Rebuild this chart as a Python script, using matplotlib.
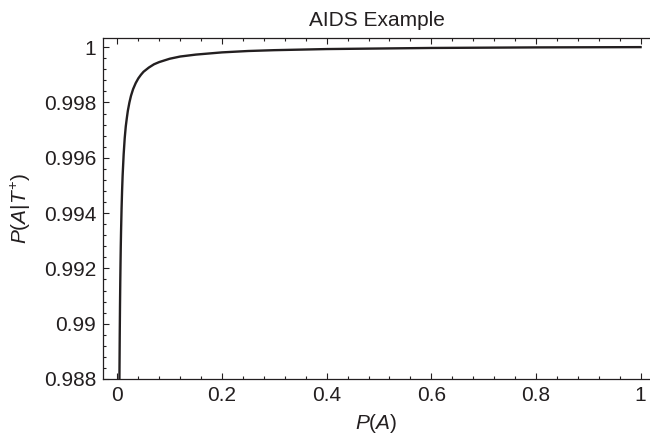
import numpy as np
import matplotlib
matplotlib.use('Agg')
import matplotlib.pyplot as plt
from matplotlib.ticker import MultipleLocator, FuncFormatter

# values
p_a = [0.0036, 0.004, 0.0045, 0.005, 0.0055, 0.006, 0.0065, 0.007, 0.008,
       0.009, 0.010, 0.012, 0.014, 0.016, 0.018, 0.020, 0.023, 0.026, 0.030,
       0.035, 0.040, 0.045, 0.050, 0.060, 0.070, 0.080, 0.090, 0.100, 0.120,
       0.150, 0.200, 0.250, 0.300, 0.400, 0.500, 0.600, 0.700, 0.800, 0.900,
       1.000]
p_a_given_t = [0.98699, 0.98830, 0.98960, 0.99065, 0.99150, 0.99221, 0.99282,
               0.99333, 0.99417, 0.99482, 0.99535, 0.99613, 0.99671, 0.99713,
               0.99743, 0.99770, 0.99800, 0.99824, 0.99848, 0.99870, 0.99887,
               0.99900, 0.99911, 0.99926, 0.99938, 0.99946, 0.99952, 0.99958,
               0.99966, 0.99973, 0.99981, 0.99986, 0.99989, 0.99993, 0.99995,
               0.99997, 0.99998, 0.99999, 0.999995, 1.0]

x_ticks = [0, 0.2, 0.4, 0.6, 0.8, 1]
y_ticks = [0.988, 0.99, 0.992, 0.994, 0.996, 0.998, 1]

ink = '#231f20'
plt.rcParams['font.family'] = ['Liberation Sans', 'DejaVu Sans']
plt.rcParams['mathtext.fontset'] = 'custom'
plt.rcParams['mathtext.rm'] = 'Liberation Sans'
plt.rcParams['mathtext.it'] = 'Liberation Sans:italic'

fig = plt.figure(figsize=(6.5, 4.34), dpi=100)
ax = fig.add_axes([103 / 650, 1 - 379 / 434, 1 - 103 / 650, (379 - 38) / 434])

ax.plot(p_a, p_a_given_t, color=ink, lw=1.7)

ax.set_xlim(-0.0275, 1.018)
ax.set_ylim(0.988, 1.00033)
ax.set_xticks(x_ticks)
ax.set_yticks(y_ticks)
ax.xaxis.set_minor_locator(MultipleLocator(0.04))
ax.yaxis.set_minor_locator(MultipleLocator(0.0004))
fmt = FuncFormatter(lambda v, pos: '%g' % round(v, 6))
ax.xaxis.set_major_formatter(fmt)
ax.yaxis.set_major_formatter(fmt)

ax.spines['right'].set_visible(False)
for s in ['left', 'top', 'bottom']:
    ax.spines[s].set_color(ink)
    ax.spines[s].set_linewidth(0.9)
ax.tick_params(which='both', direction='in', top=True, right=False,
               color=ink, labelcolor=ink, labelsize=15, width=0.8)
ax.tick_params(which='major', length=4.5, pad=5)
ax.tick_params(which='minor', length=2)

ax.set_title('AIDS Example', fontsize=15, color=ink, pad=9)
ax.set_xlabel('$P(A)$', fontsize=15, color=ink, labelpad=5)
ax.set_ylabel('$P(A|T^{+})$', fontsize=15, color=ink, labelpad=8)

fig.savefig('out.png', dpi=100)
